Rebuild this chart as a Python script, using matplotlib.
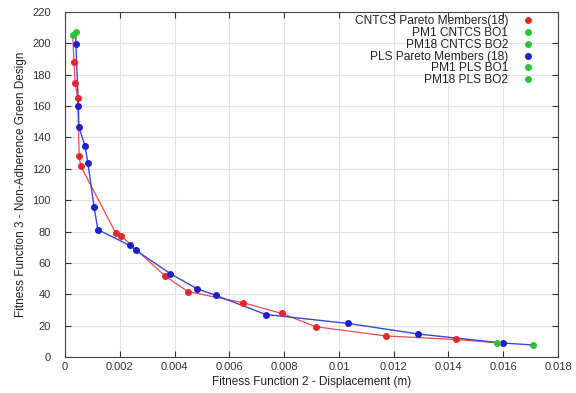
# Pareto fronts CNTCS vs PLS, fitness 2 vs fitness 3
import matplotlib.pyplot as plt

plt.rcParams['font.family'] = ['Liberation Sans', 'DejaVu Sans']

# CNTCS pareto members (red)
cntcs_x = [0.00033, 0.00037, 0.00046, 0.00052, 0.00057, 0.00186, 0.00204, 0.00365,
           0.00449, 0.0065, 0.00791, 0.00916, 0.01172, 0.01426]
cntcs_y = [188, 175, 165.4, 128.4, 122, 78.8, 77.4, 51.7, 41.7, 34.6, 27.8, 19.3, 13.4, 11.2]

# PLS pareto members (blue)
pls_x = [0.0004, 0.00049, 0.00051, 0.00073, 0.00084, 0.00106, 0.0012, 0.00236, 0.00259,
         0.00385, 0.00481, 0.00551, 0.00733, 0.01034, 0.01288, 0.01598]
pls_y = [199.4, 160, 146.5, 134.7, 123.5, 95.9, 81.2, 71.2, 68, 53.1, 43.6, 39.3, 27.1,
         21.4, 14.7, 8.9]

# best objective members (green)
pm1_cntcs = (0.01576, 9.1)
pm18_cntcs = (0.00028, 205.4)
pm1_pls = (0.01708, 7.7)
pm18_pls = (0.00039, 207.5)

red = '#e5262b'
blue = '#1a22c8'
green = '#2fc23a'

fig = plt.figure(figsize=(5.76, 3.93), dpi=100)
ax = fig.add_axes([0.1128, 0.0916, 0.856, 0.8779])

# lines through the whole front, end members included
ax.plot([pm18_cntcs[0]] + cntcs_x + [pm1_cntcs[0]],
        [pm18_cntcs[1]] + cntcs_y + [pm1_cntcs[1]], color='#ee4a48', lw=0.9, zorder=2)
ax.plot([pm18_pls[0]] + pls_x + [pm1_pls[0]],
        [pm18_pls[1]] + pls_y + [pm1_pls[1]], color='#3a44e0', lw=1.0, zorder=2)

ax.plot(cntcs_x, cntcs_y, 'o', color=red, ms=4, ls='none', label='CNTCS Pareto Members(18)', zorder=3)
ax.plot(*pm1_cntcs, 'o', color=green, ms=4, ls='none', label='PM1 CNTCS BO1', zorder=4)
ax.plot(*pm18_cntcs, 'o', color=green, ms=4, ls='none', label='PM18 CNTCS BO2', zorder=4)
ax.plot(pls_x, pls_y, 'o', color=blue, ms=4, ls='none', label='PLS Pareto Members (18)', zorder=3)
ax.plot(*pm1_pls, 'o', color=green, ms=4, ls='none', label='PM1 PLS BO1', zorder=4)
ax.plot(*pm18_pls, 'o', color=green, ms=4, ls='none', label='PM18 PLS BO2', zorder=4)

ax.set_xlim(0, 0.018)
ax.set_ylim(0, 220)
ax.set_xticks([0, 0.002, 0.004, 0.006, 0.008, 0.01, 0.012, 0.014, 0.016, 0.018])
ax.set_xticklabels(['0', '0.002', '0.004', '0.006', '0.008', '0.01', '0.012', '0.014', '0.016', '0.018'])
ax.set_yticks(range(0, 221, 20))
ax.grid(True, color='#e2e2e2', lw=0.8)
ax.set_axisbelow(True)
ax.tick_params(direction='in', top=True, right=True, labelsize=8, colors='#333333', length=4)
ax.tick_params(axis='y', pad=10)
for s in ax.spines.values():
    s.set_color('#444444')

ax.set_xlabel('Fitness Function 2 - Displacement (m)', fontsize=8.5, color='#222222', labelpad=3)
ax.set_ylabel('Fitness Function 3 - Non-Adherence Green Design', fontsize=8.5, color='#222222', labelpad=4)

leg = ax.legend(loc='upper right', bbox_to_anchor=(0.952, 0.99), frameon=False,
                markerfirst=False, fontsize=8.6, handlelength=1.0, labelspacing=-0.02,
                borderaxespad=0, handletextpad=1.2, borderpad=0)
for t in leg.get_texts():
    t.set_color('#222222')

fig.savefig('out.png', dpi=100)
